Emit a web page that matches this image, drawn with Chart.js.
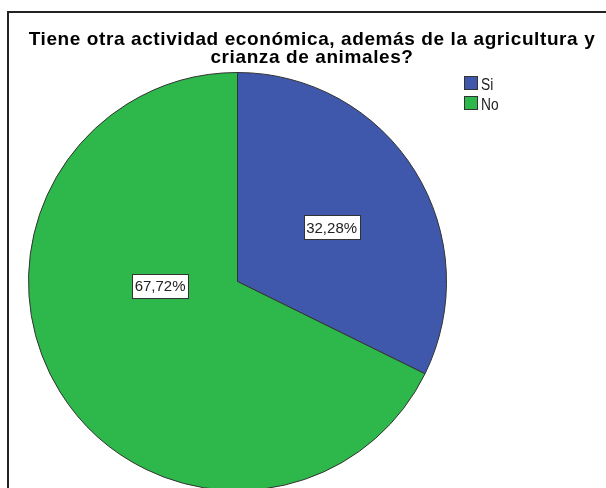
<!DOCTYPE html>
<html>
<head>
<meta charset="utf-8">
<script src="https://cdn.jsdelivr.net/npm/chart.js@4.4.1/dist/chart.umd.min.js"></script>
<style>
    body { margin: 0; width: 606px; height: 488px; overflow: hidden; background: #fff; position: relative; }
    #frame { position: absolute; left: 7px; top: 11px; width: 700px; height: 600px; border: 2px solid #222; }
    #title {
        position: absolute; left: 0; top: 30px; width: 624px; text-align: center;
        font: bold 19px "Liberation Sans", Arial, sans-serif; line-height: 18px;
        letter-spacing: 0.6px; color: #000; white-space: nowrap;
    }
    #chartWrap { position: absolute; left: 0; top: 0; width: 624px; height: 520px; }
</style>
</head>
<body>
<div id="frame"></div>
<div id="chartWrap"><canvas id="pieChart" width="624" height="520"></canvas></div>
<div id="title"></div>
<script>
// --- Data ---
const titleLines = ['Tiene otra actividad económica, además de la agricultura y', 'crianza de animales?'];
const categories = ['Si', 'No'];
const percentages = [32.28, 67.72];
const sliceColors = ['#3F58AB', '#2EB84B'];

document.getElementById('title').innerHTML = titleLines.join('<br>');

const fmtPct = v => v.toFixed(2).replace('.', ',') + '%';

// --- Boxed percentage labels (SPSS style) ---
const sliceLabels = {
    id: 'sliceLabels',
    afterDatasetsDraw(chart, args, opts) {
        const ctx = chart.ctx;
        const meta = chart.getDatasetMeta(0);
        ctx.save();
        ctx.font = '15px "Liberation Sans", Arial, sans-serif';
        ctx.textAlign = 'center';
        ctx.textBaseline = 'alphabetic';
        meta.data.forEach((arc, i) => {
            const spot = opts.spots[i];
            const a = spot.angle * Math.PI / 180;
            const x = arc.x + Math.sin(a) * arc.outerRadius * spot.radius;
            const y = arc.y - Math.cos(a) * arc.outerRadius * spot.radius;
            const text = fmtPct(chart.data.datasets[0].data[i]);
            const w = Math.round(ctx.measureText(text).width + 5);
            const h = 24;
            const bx = Math.round(x - w / 2) + 0.5;
            const by = Math.round(y - h / 2) + 0.5;
            ctx.fillStyle = '#fff';
            ctx.fillRect(bx, by, w, h);
            ctx.strokeStyle = '#333';
            ctx.lineWidth = 1;
            ctx.strokeRect(bx, by, w, h);
            ctx.fillStyle = '#222';
            ctx.fillText(text, x, y + 5.5);
        });
        ctx.restore();
    }
};

// --- Legend squares at top right ---
const squareLegend = {
    id: 'squareLegend',
    afterDraw(chart, args, opts) {
        const ctx = chart.ctx;
        const ds = chart.data.datasets[0];
        ctx.save();
        ctx.font = '16px "Liberation Sans Narrow", "Liberation Sans", sans-serif';
        ctx.textAlign = 'left';
        ctx.textBaseline = 'alphabetic';
        chart.data.labels.forEach((lab, i) => {
            const top = opts.top + i * opts.step;
            ctx.fillStyle = ds.backgroundColor[i];
            ctx.fillRect(opts.left, top, 13, 13);
            ctx.strokeStyle = '#333';
            ctx.lineWidth = 1;
            ctx.strokeRect(opts.left + 0.5, top + 0.5, 13, 13);
            // narrow text, like the original
            ctx.save();
            ctx.translate(opts.left + 17, top + 14);
            ctx.scale(0.86, 1);
            ctx.fillStyle = '#222';
            ctx.fillText(lab, 0, 0);
            ctx.restore();
        });
        ctx.restore();
    }
};

new Chart(document.getElementById('pieChart'), {
    type: 'pie',
    data: {
        labels: categories,
        datasets: [{
            data: percentages,
            backgroundColor: sliceColors,
            borderColor: '#333',
            borderWidth: 1
        }]
    },
    options: {
        responsive: false,
        animation: false,
        layout: { padding: { left: 28, right: 177, top: 72, bottom: 29 } },
        plugins: {
            legend: { display: false },
            tooltip: { enabled: false },
            title: { display: false },
            sliceLabels: { spots: [{ angle: 60, radius: 0.52 }, { angle: 267, radius: 0.371 }] },
            squareLegend: { left: 464, top: 76, step: 20 }
        }
    },
    plugins: [sliceLabels, squareLegend]
});
</script>
</body>
</html>
